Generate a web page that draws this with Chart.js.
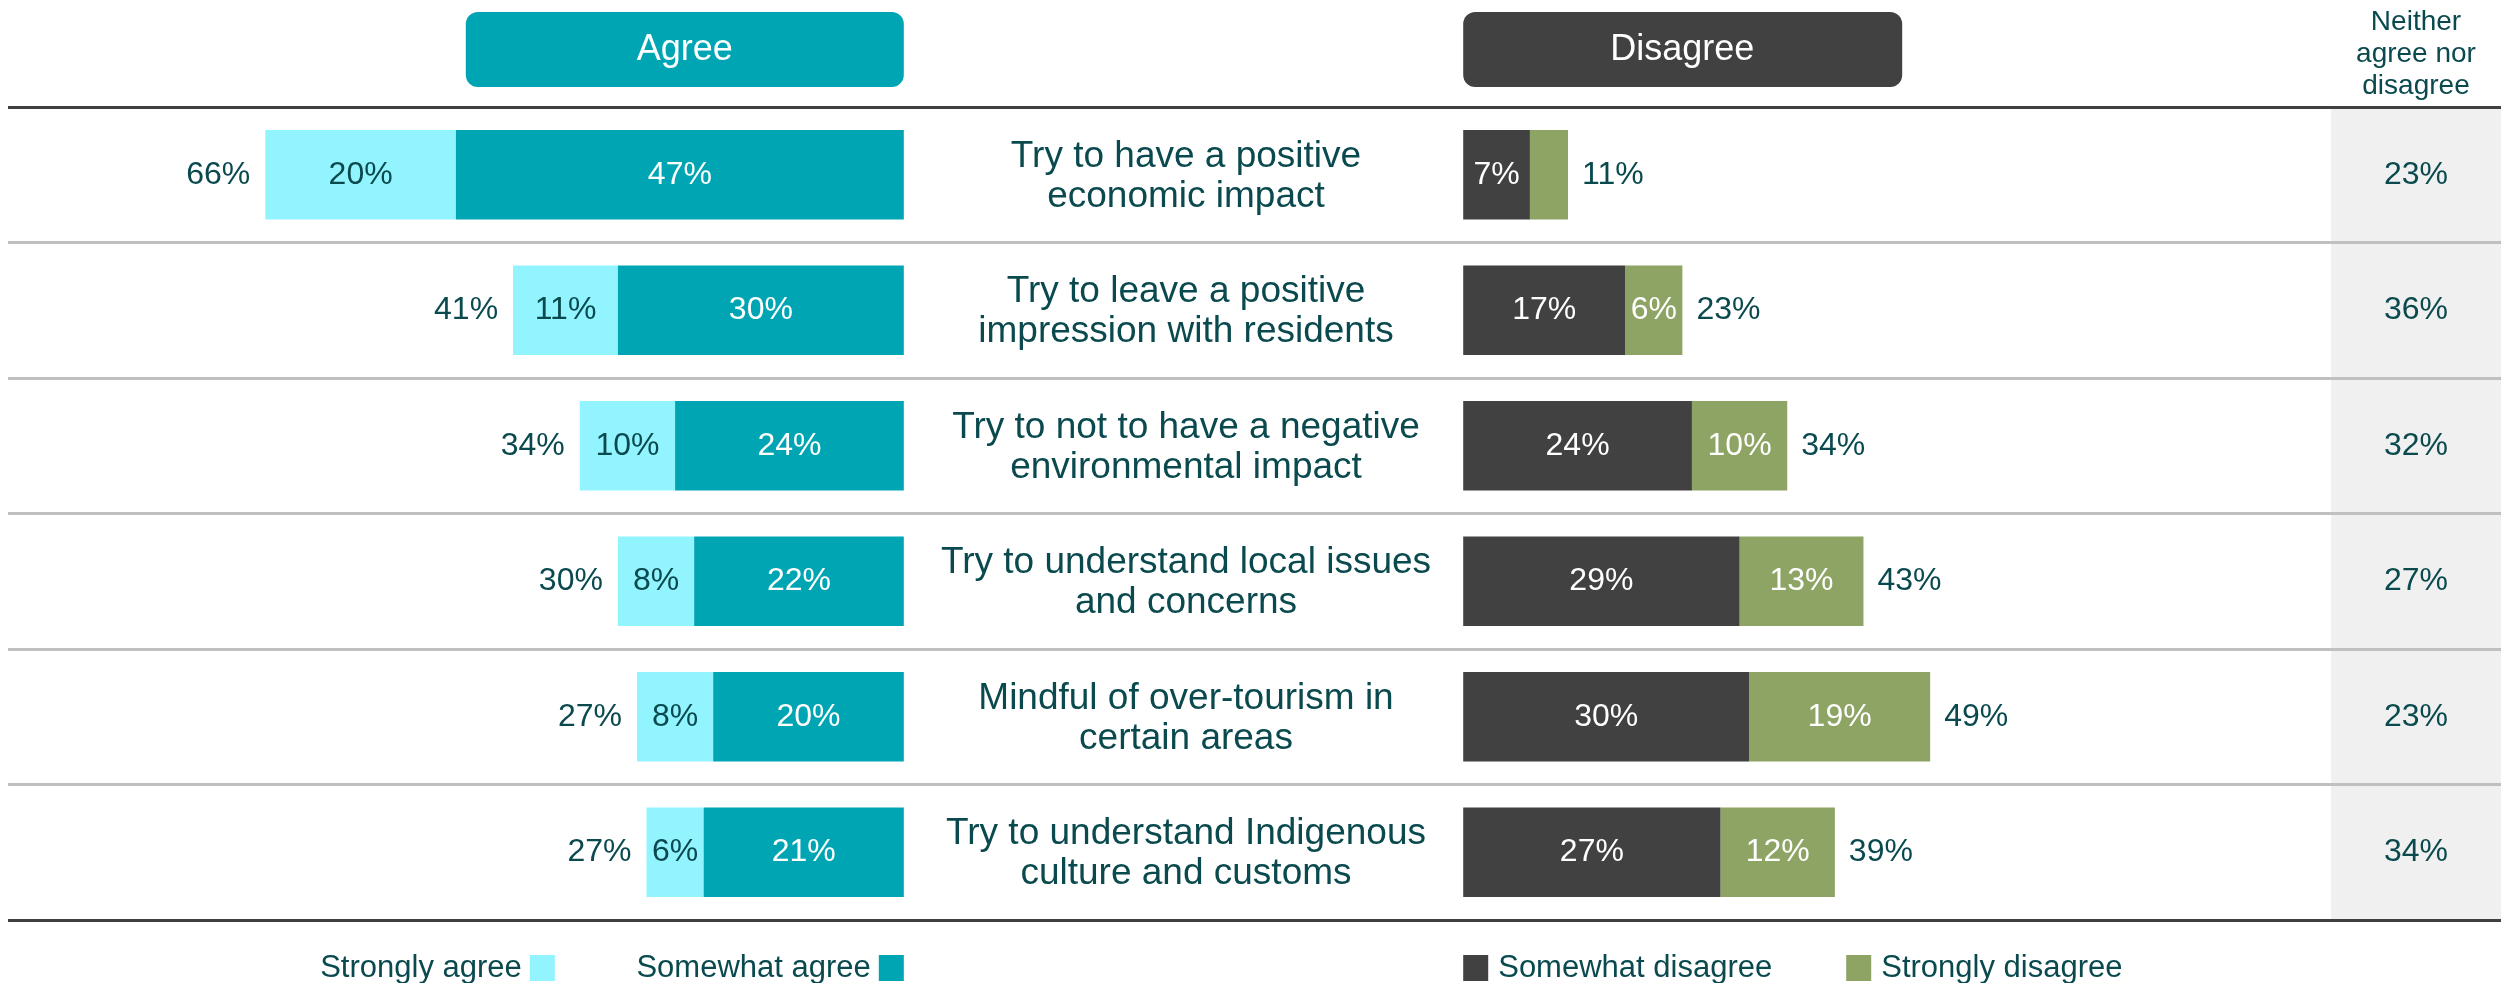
<!DOCTYPE html>
<html>
<head>
<meta charset="utf-8">
<script src="https://cdn.jsdelivr.net/npm/chart.js@4.4.0/dist/chart.umd.min.js"></script>
<style>
  html, body { margin: 0; padding: 0; background: #fff; }
  #wrap { position: relative; width: 2501px; height: 983px; }
</style>
</head>
<body>
<div id="wrap"><canvas id="chart" width="2501" height="983"></canvas></div>
<script>
// survey statements (rows, top to bottom)
const categories = [
  ["Try to have a positive", "economic impact"],
  ["Try to leave a positive", "impression with residents"],
  ["Try to not to have a negative", "environmental impact"],
  ["Try to understand local issues", "and concerns"],
  ["Mindful of over-tourism in", "certain areas"],
  ["Try to understand Indigenous", "culture and customs"]
];
const stronglyAgree = [20, 11, 10, 8, 8, 6];
const somewhatAgree = [47, 30, 24, 22, 20, 21];
const agreeTotal = [66, 41, 34, 30, 27, 27];
const somewhatDisagree = [7, 17, 24, 29, 30, 27];
const stronglyDisagree = [4, 6, 10, 13, 19, 12];
const disagreeTotal = [11, 23, 34, 43, 49, 39];
const neither = [23, 36, 32, 27, 23, 34];

const TEXT = "#0a4a4f";
const FONT = '"Liberation Sans", Arial, sans-serif';
const NEITHER_LEFT = 2331;
const NEITHER_MID = 2416;
const CAT_MID = 1186;

const overlay = {
  id: "overlay",
  beforeDraw(chart) {
    const { ctx, chartArea } = chart;
    const xa = chart.scales.xa, xd = chart.scales.xd;
    ctx.save();
    // neither column
    ctx.fillStyle = "#f0f0f0";
    ctx.fillRect(NEITHER_LEFT, chartArea.top, chartArea.right - NEITHER_LEFT, chartArea.bottom - chartArea.top);

    // header boxes
    const a0 = xa.getPixelForValue(0);
    const d0 = xd.getPixelForValue(0);
    ctx.fillStyle = "#00a5b4";
    ctx.beginPath(); ctx.roundRect(a0 - 438, 12, 438, 75, 12); ctx.fill();
    ctx.fillStyle = "#414141";
    ctx.beginPath(); ctx.roundRect(d0, 12, 439, 75, 12); ctx.fill();
    ctx.fillStyle = "#fff";
    ctx.font = "36px " + FONT;
    ctx.textAlign = "center";
    ctx.textBaseline = "middle";
    ctx.fillText("Agree", a0 - 219, 50);
    ctx.fillText("Disagree", d0 + 219, 50);

    ctx.fillStyle = TEXT;
    ctx.font = "28px " + FONT;
    ["Neither", "agree nor", "disagree"].forEach((t, i) => ctx.fillText(t, NEITHER_MID, 22 + i * 32));
    ctx.restore();
  },
  afterDatasetsDraw(chart) {
    const { ctx } = chart;
    const y = chart.scales.y;
    ctx.save();
    ctx.textBaseline = "middle";

    // labels inside segments
    ctx.font = "32px " + FONT;
    ctx.textAlign = "center";
    chart.data.datasets.forEach((ds, d) => {
      const meta = chart.getDatasetMeta(d);
      meta.data.forEach((bar, i) => {
        const v = ds.data[i];
        if (v < 5) return;
        ctx.fillStyle = ds.labelColor;
        ctx.fillText(v + "%", (bar.x + bar.base) / 2, bar.y);
      });
    });

    // totals outside bars
    const aEnd = chart.getDatasetMeta(1).data;
    const dEnd = chart.getDatasetMeta(3).data;
    ctx.fillStyle = TEXT;
    ctx.textAlign = "right";
    aEnd.forEach((bar, i) => ctx.fillText(agreeTotal[i] + "%", bar.x - 15, bar.y));
    ctx.textAlign = "left";
    dEnd.forEach((bar, i) => ctx.fillText(disagreeTotal[i] + "%", bar.x + 14, bar.y));

    // neither values
    ctx.textAlign = "center";
    neither.forEach((v, i) => ctx.fillText(v + "%", NEITHER_MID, y.getPixelForValue(i)));

    // statement labels
    ctx.font = "37px " + FONT;
    categories.forEach((lines, i) => {
      const cy = y.getPixelForValue(i) + 2;
      lines.forEach((t, k) => ctx.fillText(t, CAT_MID, cy + (k - (lines.length - 1) / 2) * 40));
    });

    // legend
    const a0 = chart.scales.xa.getPixelForValue(0);
    const d0 = chart.scales.xd.getPixelForValue(0);
    const ds = chart.data.datasets;
    ctx.font = "31px " + FONT;
    const ly = 968;
    const left = [
      { ds: ds[1], right: a0 - 349 },
      { ds: ds[0], right: a0 }
    ];
    ctx.textAlign = "right";
    left.forEach(it => {
      ctx.fillStyle = it.ds.backgroundColor;
      ctx.fillRect(it.right - 25, 955, 25, 26);
      ctx.fillStyle = TEXT;
      ctx.fillText(it.ds.label, it.right - 33, ly);
    });
    const right = [
      { ds: ds[2], left: d0 },
      { ds: ds[3], left: d0 + 383 }
    ];
    ctx.textAlign = "left";
    right.forEach(it => {
      ctx.fillStyle = it.ds.backgroundColor;
      ctx.fillRect(it.left, 955, 25, 26);
      ctx.fillStyle = TEXT;
      ctx.fillText(it.ds.label, it.left + 35, ly);
    });
    ctx.restore();
  }
};

new Chart(document.getElementById("chart"), {
  type: "bar",
  data: {
    labels: categories,
    datasets: [
      { label: "Somewhat agree", data: somewhatAgree, xAxisID: "xa", backgroundColor: "#00a5b4", labelColor: "#ffffff" },
      { label: "Strongly agree", data: stronglyAgree, xAxisID: "xa", backgroundColor: "#92f4ff", labelColor: TEXT },
      { label: "Somewhat disagree", data: somewhatDisagree, xAxisID: "xd", backgroundColor: "#414141", labelColor: "#ffffff" },
      { label: "Strongly disagree", data: stronglyDisagree, xAxisID: "xd", backgroundColor: "#8ea464", labelColor: "#ffffff" }
    ]
  },
  options: {
    indexAxis: "y",
    responsive: false,
    animation: false,
    layout: { padding: { top: 107, bottom: 63, left: 8, right: 0 } },
    datasets: { bar: { grouped: false, categoryPercentage: 1, barPercentage: 0.66 } },
    plugins: { legend: { display: false }, tooltip: { enabled: false } },
    scales: {
      y: {
        type: "category",
        offset: true,
        ticks: { display: false },
        border: { display: false },
        grid: {
          offset: true,
          drawTicks: false,
          lineWidth: 3,
          color: ctx => (ctx.type !== "tick" || ctx.index === 0) ? "#404040" : "#c0c0c0"
        }
      },
      xa: { type: "linear", axis: "x", display: false, reverse: true, stacked: true, min: -167.6, max: 94.0 },
      xd: { type: "linear", axis: "x", display: false, stacked: true, min: -152.7, max: 108.9 }
    }
  },
  plugins: [overlay]
});
</script>
</body>
</html>
